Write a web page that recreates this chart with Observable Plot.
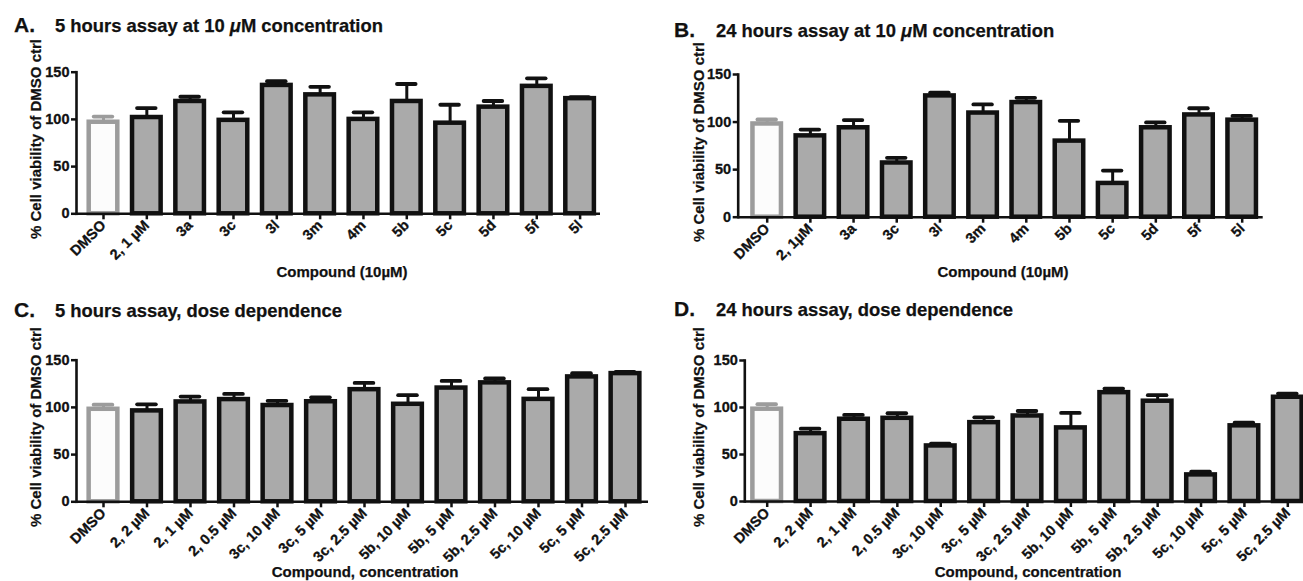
<!DOCTYPE html>
<html><head><meta charset="utf-8">
<script src="https://cdn.jsdelivr.net/npm/d3@7"></script>
<script src="https://cdn.jsdelivr.net/npm/@observablehq/plot@0.6"></script>
<style>
body{margin:0;background:#fff;}
#root{position:relative;width:1303px;height:581px;overflow:hidden;font-family:"Liberation Sans",Arial,sans-serif;color:#111;background:#fff;}
.panel{position:absolute;}
.t{position:absolute;font-weight:bold;white-space:nowrap;line-height:1;color:#111;-webkit-text-stroke:0.25px #111;}
</style></head><body><div id="root"></div>
<script>
// ---- data ----
const catsA = ["DMSO","2, 1 µM","3a","3c","3l","3m","4m","5b","5c","5d","5f","5l"];
const valsA = [97, 102, 119, 99, 136, 126, 100, 119, 96, 113, 135, 122];
const errsA = [6, 10, 5, 8.5, 4.5, 8.5, 7.5, 18.5, 19.5, 6.5, 8.5, 1.5];

const catsB = ["DMSO","2, 1µM","3a","3c","3l","3m","4m","5b","5c","5d","5f","5l"];
const valsB = [98, 85.5, 94, 57, 127.5, 109.5, 120.5, 80, 35.5, 94, 107.5, 102];
const errsB = [4.7, 6.6, 8.1, 5.4, 3.5, 9, 5, 21.3, 13.5, 5.6, 7, 4.5];

const catsC = ["DMSO","2, 2 µM","2, 1 µM","2, 0.5 µM","3c, 10 µM","3c, 5 µM","3c, 2.5 µM","5b, 10 µM","5b, 5 µM","5b, 2.5 µM","5c, 10 µM","5c, 5 µM","5c, 2.5 µM"];
const valsC = [98, 96.3, 105.8, 108.3, 102, 106, 118.8, 103.3, 120.5, 126, 108.5, 132.3, 135.8];
const errsC = [4.9, 7, 5.7, 6, 5, 4.7, 7.1, 9.6, 7.5, 4.6, 10.8, 3.9, 1.7];

const catsD = ["DMSO","2, 2 µM","2, 1 µM","2, 0.5 µM","3c, 10 µM","3c, 5 µM","3c, 2.5 µM","5b, 10 µM","5b, 5 µM","5b, 2.5 µM","5c, 10 µM","5c, 5 µM","5c, 2.5 µM"];
const valsD = [98.2, 72.2, 87.5, 88.5, 59.1, 83.9, 91, 78.3, 115.8, 106.7, 28.3, 80.5, 110.9];
const errsD = [5.3, 5.3, 4.6, 5.4, 2.4, 5.6, 5.3, 15.9, 4.3, 6.4, 3.5, 3.4, 3.9];

const yTicks = [0, 50, 100, 150];
const yLabel = "% Cell viability of DMSO ctrl";
const titles = {
  A: ["A.", "5 hours assay at 10 <i>μ</i>M concentration"],
  B: ["B.", "24 hours assay at 10 <i>μ</i>M concentration"],
  C: ["C.", "5 hours assay, dose dependence"],
  D: ["D.", "24 hours assay, dose dependence"]
};
const xTitles = {A: "Compound (10µM)", B: "Compound (10µM)", C: "Compound, concentration", D: "Compound, concentration"};

// ---- layout ----
const FONT = '"Liberation Sans", Arial, sans-serif';
const BLACK = "#111";
const GREY_FILL = "#aaaaaa";
const CTRL_STROKE = "#9c9c9c";
const CTRL_FILL = "#fcfcfc";
const PI = 0.34;
const TICK_FS = 14.5;

const layout = [
  {k:"A", cats:catsA, vals:valsA, errs:errsA, left:0,   top:40,  w:650, h:250, x0:76,    x1:600,    yTop:71.7, yBot:213.3, c0:103,   cN:579.6,
   titleY:31.7, labX:14, txtX:55, ylx:36.5, yly:139, xtx:342, xty:277},
  {k:"B", cats:catsB, vals:valsB, errs:errsB, left:650, top:40,  w:653, h:250, x0:737.7, x1:1262.7, yTop:74,   yBot:216.7, c0:766.7, cN:1241.7,
   titleY:36.5, labX:674, txtX:716, ylx:699.5, yly:141.5, xtx:1003, xty:277},
  {k:"C", cats:catsC, vals:valsC, errs:errsC, left:0,   top:325, w:650, h:256, x0:76,    x1:648,    yTop:359.7, yBot:501.3, c0:103,  cN:625,
   titleY:316.7, labX:14, txtX:55, ylx:36.5, yly:427, xtx:365, xty:577},
  {k:"D", cats:catsD, vals:valsD, errs:errsD, left:650, top:325, w:653, h:256, x0:744.3, x1:1303,    yTop:360,  yBot:501,   c0:766.7, cN:1287.3,
   titleY:316, labX:674, txtX:716, ylx:699.5, yly:427, xtx:1028, xty:577}
];

const root = document.getElementById("root");

function addText(html, x, baseline, fs, anchor) {
  const d = document.createElement("div");
  d.className = "t";
  d.style.fontSize = fs + "px";
  d.innerHTML = html;
  d.style.top = (baseline - 0.8465 * fs) + "px";
  if (anchor === "middle") { d.style.left = x + "px"; d.style.transform = "translateX(-50%)"; }
  else d.style.left = x + "px";
  root.appendChild(d);
}
function addYLabel(text, cx, cy, fs) {
  const d = document.createElement("div");
  d.className = "t";
  d.style.fontSize = fs + "px";
  d.textContent = text;
  d.style.left = (cx - 1.3) + "px";
  d.style.top = cy + "px";
  d.style.transform = "translate(-50%,-50%) rotate(-90deg)";
  root.appendChild(d);
}

for (const p of layout) {
  const n = p.cats.length;
  const data = p.cats.map((c, i) => ({c, v: p.vals[i], hi: p.vals[i] + p.errs[i]}));
  const ctrl = data.slice(0, 1), rest = data.slice(1);
  const step = (p.cN - p.c0) / (n - 1);
  const rx0 = p.c0 - p.left - step * (1 - PI) / 2;
  const rx1 = rx0 + step * (n - PI);
  const chart = Plot.plot({
    width: p.w, height: p.h,
    marginLeft: p.x0 - p.left, marginRight: p.left + p.w - p.x1,
    marginTop: p.yTop - p.top, marginBottom: p.top + p.h - p.yBot,
    x: {type: "band", domain: p.cats, range: [rx0, rx1], paddingInner: PI, paddingOuter: 0, align: 0, round: false},
    y: {domain: [0, 150]},
    style: {fontFamily: FONT, fontWeight: "bold", fontSize: TICK_FS + "px", color: BLACK, background: "transparent", overflow: "visible"},
    marks: [
      Plot.barY(ctrl, {x: "c", y: "v", fill: CTRL_FILL, stroke: CTRL_STROKE, strokeWidth: 4.5}),
      Plot.barY(rest, {x: "c", y: "v", fill: GREY_FILL, stroke: BLACK, strokeWidth: 4.5}),
      Plot.ruleX(ctrl, {x: "c", y1: "v", y2: "hi", stroke: CTRL_STROKE, strokeWidth: 3}),
      Plot.ruleX(rest, {x: "c", y1: "v", y2: "hi", stroke: BLACK, strokeWidth: 3}),
      Plot.tickY(ctrl, {x: "c", y: "hi", stroke: CTRL_STROKE, strokeWidth: 3.8, strokeLinecap: "round", insetLeft: 5, insetRight: 5}),
      Plot.tickY(rest, {x: "c", y: "hi", stroke: BLACK, strokeWidth: 3.8, strokeLinecap: "round", insetLeft: 5, insetRight: 5}),
      Plot.ruleY([0], {stroke: BLACK, strokeWidth: 2.6}),
      Plot.frame({anchor: "left", stroke: BLACK, strokeWidth: 2.6}),
      Plot.axisY({ticks: yTicks, tickSize: 5, tickPadding: 2, strokeWidth: 2.5, label: null, fontSize: TICK_FS, fontWeight: "bold"}),
      Plot.axisX({tickRotate: -45, tickSize: 6, tickPadding: 3, strokeWidth: 2.5, label: null, fontSize: TICK_FS, fontWeight: "bold"})
    ]
  });
  const holder = document.createElement("div");
  holder.className = "panel";
  holder.style.left = p.left + "px";
  holder.style.top = p.top + "px";
  holder.appendChild(chart);
  root.appendChild(holder);
  chart.querySelectorAll("g[aria-label$='tick label'] text").forEach(t => {
    t.style.fontSize = TICK_FS + "px";
    t.style.fontWeight = "bold";
    t.style.stroke = BLACK;
    t.style.strokeWidth = "0.3px";
  });

  addText(titles[p.k][0], p.labX, p.titleY, 21);
  addText(titles[p.k][1], p.txtX, p.titleY + 1, 18.4);
  addYLabel(yLabel, p.ylx, p.yly, 15);
  addText(xTitles[p.k], p.xtx, p.xty, 15, "middle");
}
</script></body></html>
